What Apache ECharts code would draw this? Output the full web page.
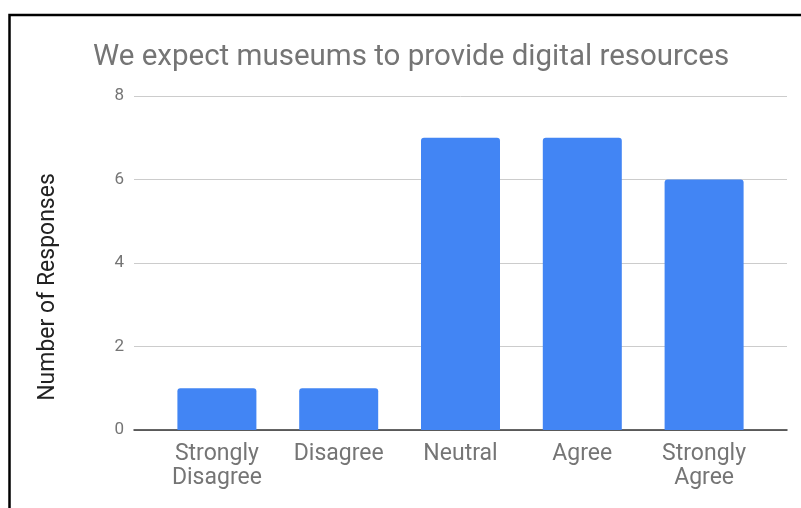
<!DOCTYPE html>
<html>
<head>
<meta charset="utf-8">
<script src="https://cdn.jsdelivr.net/npm/echarts@6/dist/echarts.min.js"></script>
<style>
  html, body { margin: 0; padding: 0; background: #fff; }
  #chart { width: 801px; height: 508px; }
</style>
</head>
<body>
<div id="chart"></div>
<script>
// Survey answers and their counts
const categories = ['Strongly\nDisagree', 'Disagree', 'Neutral', 'Agree', 'Strongly\nAgree'];
const responses = [1, 1, 7, 7, 6];
const yTicks = [0, 2, 4, 6, 8];

const chart = echarts.init(document.getElementById('chart'), null, { renderer: 'canvas' });

const font = 'Roboto, "Noto Sans", sans-serif';
const plotTop = 96;
const plotBottom = 78;

chart.setOption({
  animation: false,
  backgroundColor: '#ffffff',
  title: {
    text: 'We expect museums to provide digital resources',
    left: 88,
    top: 38,
    textStyle: { fontFamily: font, fontSize: 29.5, fontWeight: 'normal', color: '#757575' }
  },
  grid: [
    // frame grid: gridlines, tick labels and baseline across the full plot width
    { left: 134, right: 14, top: plotTop, bottom: plotBottom, containLabel: false },
    // bar grid: inset so the columns sit with side padding inside the frame
    { left: 156, right: 36, top: plotTop, bottom: plotBottom, containLabel: false }
  ],
  xAxis: [
    {
      gridIndex: 0, type: 'value', min: 0, max: 1,
      axisLine: { show: true, onZero: false, lineStyle: { color: '#333333', width: 1.5 } },
      axisTick: { show: false }, axisLabel: { show: false }, splitLine: { show: false }
    },
    {
      gridIndex: 1, type: 'category', data: categories,
      axisLine: { show: false }, axisTick: { show: false },
      axisLabel: {
        fontFamily: font, fontSize: 23, color: '#757575', lineHeight: 24, margin: 12, interval: 0
      }
    }
  ],
  yAxis: [
    {
      gridIndex: 0, type: 'value', min: yTicks[0], max: yTicks[yTicks.length - 1], interval: 2,
      axisLine: { show: false }, axisTick: { show: false },
      axisLabel: { fontFamily: font, fontSize: 17, color: '#757575', margin: 10 },
      splitLine: { show: true, lineStyle: { color: '#cccccc', width: 1 } },
      name: 'Number of Responses',
      nameLocation: 'middle',
      nameGap: 74,
      nameTextStyle: { fontFamily: font, fontSize: 23, color: '#222222', padding: [0, 48, 0, 0] }
    },
    {
      gridIndex: 1, type: 'value', min: yTicks[0], max: yTicks[yTicks.length - 1], interval: 2,
      show: false, splitLine: { show: false }
    }
  ],
  series: [
    {
      type: 'bar',
      xAxisIndex: 1, yAxisIndex: 1,
      data: responses,
      barWidth: 79,
      itemStyle: { color: '#4285f4', borderRadius: [3, 3, 0, 0] }
    }
  ],
  graphic: [
    {
      type: 'polyline',
      shape: { points: [[9.5, 508], [9.5, 15], [801, 15]] },
      style: { stroke: '#000000', lineWidth: 2.5, fill: null },
      z: 100
    }
  ]
});
</script>
</body>
</html>
